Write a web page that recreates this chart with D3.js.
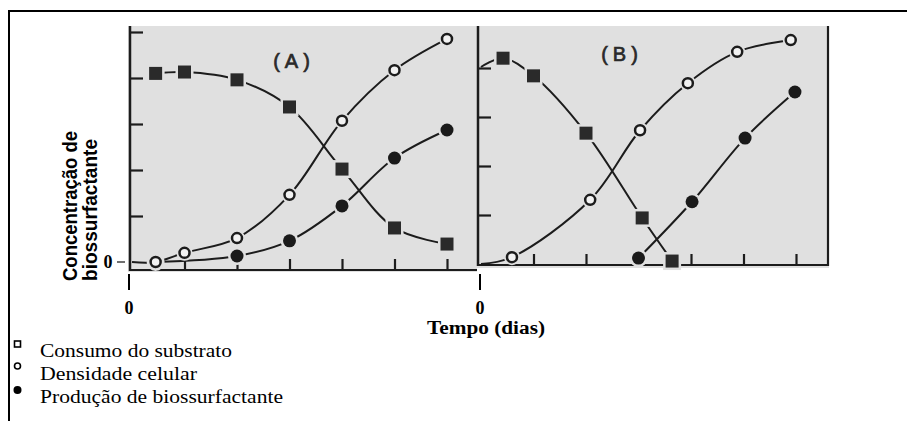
<!DOCTYPE html>
<html>
<head>
<meta charset="utf-8">
<script src="https://cdn.jsdelivr.net/npm/d3@7"></script>
<style>
  body { margin: 0; background: #fff; }
  svg { display: block; }
</style>
</head>
<body>
<div id="canvas"></div>
<script>
// tempo (dias) and concentracao
const aSubstrateT = [0.45, 1, 2, 3, 4, 5, 6];
const aSubstrate  = [4.10, 4.13, 3.96, 3.37, 2.02, 0.74, 0.39];
const aCellsT     = [0, 0.45, 1, 2, 3, 4, 5, 6];
const aCells      = [0, 0, 0.20, 0.52, 1.46, 3.07, 4.17, 4.85];
const aProductT   = [0.45, 2, 3, 4, 5, 6];
const aProduct    = [0, 0.13, 0.46, 1.22, 2.26, 2.87];

const bSubstrateT = [0, 0.42, 1, 2, 3.07, 3.64];
const bSubstrate  = [4.02, 4.20, 3.84, 2.67, 0.94, 0.06];
const bCellsT     = [0, 0.59, 2.08, 3.03, 3.94, 4.88, 5.9];
const bCells      = [0, 0.14, 1.31, 2.73, 3.69, 4.33, 4.57];
const bProductT   = [3, 4.02, 5.03, 5.98];
const bProduct    = [0.12, 1.27, 2.57, 3.51];

const aYTicks = [1, 2, 3, 4, 5];
const bYTicks = [1, 2, 3, 4];
const xTicks = [1, 2, 3, 4, 5, 6];
const legendLabels = ["Consumo do substrato", "Densidade celular", "Produção de biossurfactante"];

const width = 907, height = 421;
const ink = "#1c1c1c", paper = "#e0e0e0";
const serif = "'Liberation Serif', 'Times New Roman', serif";
const sans = "'Liberation Sans', Arial, sans-serif";

const svg = d3.select("#canvas").append("svg")
  .attr("width", width).attr("height", height);

// outer frame
svg.append("line").attr("x1", 8).attr("x2", width).attr("y1", 11).attr("y2", 11)
  .attr("stroke", "#000").attr("stroke-width", 2);
svg.append("line").attr("x1", 9).attr("x2", 9).attr("y1", 11).attr("y2", height)
  .attr("stroke", "#000").attr("stroke-width", 2);

const zip = (t, v) => t.map((d, i) => ({ t: d, v: v[i] }));

function panel(opt) {
  const x = d3.scaleLinear().domain([0, 6]).range(opt.xRange);
  const y = d3.scaleLinear().domain([0, 4]).range(opt.yRange);
  const g = svg.append("g");

  g.append("rect")
    .attr("x", opt.box[0]).attr("y", opt.box[1])
    .attr("width", opt.box[2] - opt.box[0]).attr("height", opt.box[3] - opt.box[1])
    .attr("fill", paper);

  // left axis with inward ticks
  g.append("g")
    .attr("transform", `translate(${opt.axisX},0)`)
    .call(d3.axisRight(y).tickValues(opt.yTicks).tickSize(13).tickSizeOuter(0).tickFormat(""))
    .call(a => a.select(".domain").remove())
    .call(a => a.selectAll("line").attr("stroke", ink).attr("stroke-width", 2.2));
  g.append("line").attr("x1", opt.axisX).attr("x2", opt.axisX)
    .attr("y1", opt.box[1]).attr("y2", opt.axisY + 1)
    .attr("stroke", ink).attr("stroke-width", 2.5);

  // bottom axis with inward ticks
  g.append("g")
    .attr("transform", `translate(0,${opt.axisY})`)
    .call(d3.axisTop(x).tickValues(xTicks).tickSize(11).tickSizeOuter(0).tickFormat(""))
    .call(a => a.select(".domain").remove())
    .call(a => a.selectAll("line").attr("stroke", ink).attr("stroke-width", 2.2));
  g.append("line").attr("x1", opt.axisX).attr("x2", opt.box[2])
    .attr("y1", opt.axisY).attr("y2", opt.axisY)
    .attr("stroke", ink).attr("stroke-width", 2.2);

  const line = d3.line().x(d => x(d.t)).y(d => y(d.v)).curve(d3.curveCatmullRom.alpha(0.5));

  const series = [
    { data: zip(opt.subT, opt.sub), kind: "square" },
    { data: zip(opt.prodT, opt.prod), kind: "filled" },
    { data: zip(opt.cellT, opt.cell), kind: "open" }
  ];

  series.forEach(s => {
    g.append("path").attr("d", line(s.data))
      .attr("fill", "none").attr("stroke", ink).attr("stroke-width", 2);
  });

  series.forEach(s => {
    const pts = s.data.filter(d => d.t > 0);
    if (s.kind === "square") {
      g.selectAll(null).data(pts).enter().append("rect")
        .attr("x", d => x(d.t) - 6.5).attr("y", d => y(d.v) - 6.5)
        .attr("width", 13).attr("height", 13)
        .attr("fill", "#2a2a2a").attr("stroke", paper).attr("stroke-width", 5)
        .attr("paint-order", "stroke");
    } else if (s.kind === "filled") {
      g.selectAll(null).data(pts).enter().append("circle")
        .attr("cx", d => x(d.t)).attr("cy", d => y(d.v)).attr("r", 6.5)
        .attr("fill", "#1a1a1a").attr("stroke", paper).attr("stroke-width", 5)
        .attr("paint-order", "stroke");
    } else {
      g.selectAll(null).data(pts).enter().append("circle")
        .attr("cx", d => x(d.t)).attr("cy", d => y(d.v)).attr("r", 8)
        .attr("fill", paper);
      g.selectAll(null).data(pts).enter().append("circle")
        .attr("cx", d => x(d.t)).attr("cy", d => y(d.v)).attr("r", 5)
        .attr("fill", "#f2f2f2").attr("stroke", ink).attr("stroke-width", 2.5);
    }
  });

  g.append("text")
    .attr("x", opt.label[0]).attr("y", opt.label[1])
    .attr("text-anchor", "middle")
    .attr("font-family", sans).attr("font-size", 20)
    .attr("letter-spacing", 5).attr("fill", "#2a2a2a")
    .attr("stroke", "#2a2a2a").attr("stroke-width", 0.7)
    .text(opt.name);

  // stem and zero below the panel
  svg.append("line").attr("x1", opt.stemX).attr("x2", opt.stemX)
    .attr("y1", 274).attr("y2", 290).attr("stroke", "#000").attr("stroke-width", 2);
  svg.append("text").attr("x", opt.stemX).attr("y", 314)
    .attr("text-anchor", "middle")
    .attr("font-family", serif).attr("font-weight", "bold")
    .attr("font-size", 18).text("0");

  return { x, y, g };
}

const A = panel({
  name: "(A)", label: [294, 68],
  box: [128, 26, 477, 272], axisX: 130, axisY: 270, stemX: 129,
  xRange: [132, 447], yRange: [262, 78], yTicks: aYTicks,
  subT: aSubstrateT, sub: aSubstrate, cellT: aCellsT, cell: aCells,
  prodT: aProductT, prod: aProduct
});

const B = panel({
  name: "(B)", label: [622, 61],
  box: [477, 26, 829, 268], axisX: 478, axisY: 265, stemX: 480,
  xRange: [481, 796], yRange: [264, 68], yTicks: bYTicks,
  subT: bSubstrateT, sub: bSubstrate, cellT: bCellsT, cell: bCells,
  prodT: bProductT, prod: bProduct
});

// right border of panel B
svg.append("line").attr("x1", 828).attr("x2", 828).attr("y1", 26).attr("y2", 266)
  .attr("stroke", ink).attr("stroke-width", 2.2);

// zero on the y axis of panel A
svg.append("text").attr("x", 108).attr("y", 268)
  .attr("text-anchor", "middle")
  .attr("font-family", serif).attr("font-weight", "bold")
  .attr("font-size", 18).text("0");
svg.append("line").attr("x1", 117).attr("x2", 125).attr("y1", 262).attr("y2", 262)
  .attr("stroke", "#222").attr("stroke-width", 1.3);

// y axis title
const yTitle = [["Concentração de", 77, 150], ["biossurfactante", 97, 142]];
yTitle.forEach(([t, bx, len]) => {
  svg.append("text")
    .attr("transform", `translate(${bx},281) rotate(-90)`)
    .attr("font-family", sans).attr("font-weight", "bold")
    .attr("font-size", 20).attr("textLength", len).attr("lengthAdjust", "spacingAndGlyphs")
    .text(t);
});

// x axis title
svg.append("text").attr("x", 427).attr("y", 334)
  .attr("font-family", serif).attr("font-weight", "bold")
  .attr("font-size", 18).attr("textLength", 118).attr("lengthAdjust", "spacingAndGlyphs")
  .text("Tempo (dias)");

// legend
const legendY = [357, 380, 403];
const legendW = [192, 157, 243];
const lg = svg.append("g");
legendLabels.forEach((t, i) => {
  lg.append("text").attr("x", 40).attr("y", legendY[i])
    .attr("font-family", serif).attr("font-size", 18)
    .attr("textLength", legendW[i]).attr("lengthAdjust", "spacingAndGlyphs")
    .text(t);
});
lg.append("rect").attr("x", 14.5).attr("y", 341).attr("width", 6).attr("height", 6)
  .attr("fill", "none").attr("stroke", "#000").attr("stroke-width", 1.6);
lg.append("circle").attr("cx", 17.5).attr("cy", 366).attr("r", 3)
  .attr("fill", "none").attr("stroke", "#000").attr("stroke-width", 1.6);
lg.append("circle").attr("cx", 17.5).attr("cy", 390).attr("r", 4)
  .attr("fill", "#000");
</script>
</body>
</html>
